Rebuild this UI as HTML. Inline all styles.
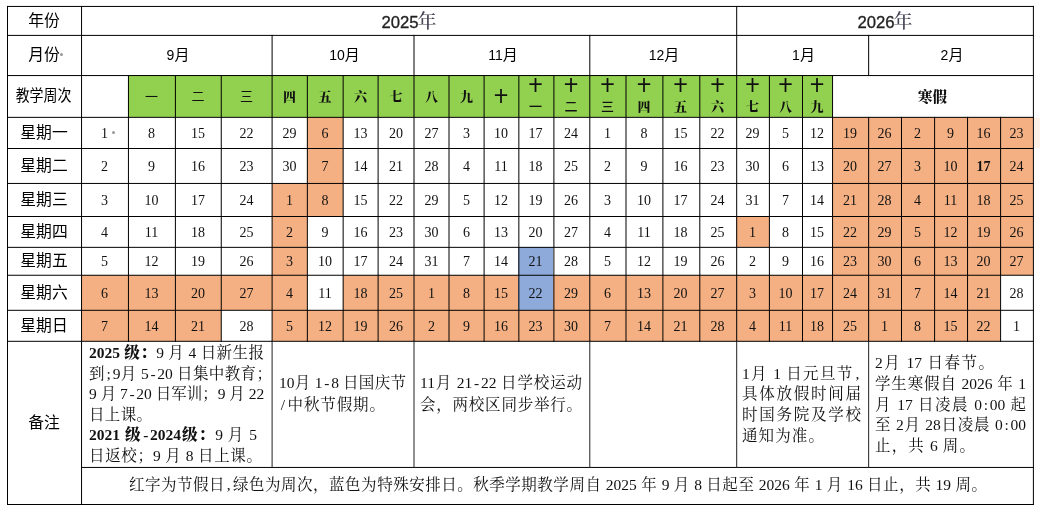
<!DOCTYPE html>
<html lang="zh-CN"><head><meta charset="utf-8"><title>校历</title><style>
html,body{margin:0;padding:0;background:#fff}
body{width:1040px;height:511px;position:relative;overflow:hidden;font-family:"Liberation Sans","Noto Sans CJK SC",sans-serif;color:#111}
.c{position:absolute;display:flex;align-items:center;justify-content:center;box-sizing:border-box;white-space:nowrap}
.grid{position:absolute;left:0;top:0;pointer-events:none}
.grid line{stroke:#000;stroke-width:1}
.grid line.g{stroke:#222}
.lab{font-size:15.8px;padding-bottom:3px;font-family:"Liberation Sans","Noto Sans CJK SC",sans-serif;font-weight:400;color:#000}
.yr{font-size:17px;padding-bottom:2px}
.sq{display:inline-block;transform:scaleX(.885)}
.dot{position:absolute;width:3px;height:3px;border-radius:50%;background:#999;margin:-.5px 0 0 -.5px}
.yr b.yd{font-family:"Liberation Sans",sans-serif;font-weight:400;font-size:16.7px;-webkit-text-stroke:.3px #222;color:#222;margin-right:0px;position:relative;left:1px}
.yr b.yc{font-family:"Liberation Serif","Noto Serif CJK SC",serif;font-weight:500;font-size:19px;color:#445}
.mo{font-size:15px;font-weight:400;padding-bottom:4px;padding-left:3px;color:#000}
.mo i{font-style:normal;font-size:14px}
.wk{font-family:"Liberation Serif","Noto Serif CJK SC",serif;font-weight:900;font-size:13px;line-height:21px;text-align:center}
.wk em{font-style:normal}
.wk.wl em{font-family:"Liberation Sans","Noto Sans CJK SC",sans-serif;font-weight:400;}
.wk em.wl2{font-family:"Liberation Sans","Noto Sans CJK SC",sans-serif;font-weight:500;}
.wk em.ten{font-family:"Liberation Sans","Noto Sans CJK SC",sans-serif;font-weight:700;font-size:13.5px}
.hol{font-family:"Liberation Serif","Noto Serif CJK SC",serif;font-weight:900;font-size:14.5px;padding-bottom:2px}
.num{font-family:"Liberation Serif","Noto Serif CJK SC",serif;font-size:14px;padding-top:2px}
.num.bold{font-weight:700}
.n{position:absolute;margin:0;white-space:nowrap;font-family:"Liberation Serif","Noto Serif CJK SC",serif;font-size:15.5px;line-height:20.8px;color:#111}
.n.j{text-align:justify;text-align-last:justify}
.n b{font-weight:900}
.n i.h{font-style:normal;padding:0 .11em}
</style></head><body>
<div class="c lab" style="left:7px;top:6px;width:74px;height:29px;"><span>年份</span></div>
<div class="c lab" style="left:7px;top:35px;width:74px;height:40px;"><span>月份</span><u class="dot" style="left:53px;top:18px"></u></div>
<div class="c lab" style="left:7px;top:75px;width:74px;height:42px;"><span class="sq">教学周次</span></div>
<div class="c lab" style="left:7px;top:117px;width:74px;height:31px;"><span>星期一</span></div>
<div class="c lab" style="left:7px;top:148px;width:74px;height:35px;"><span>星期二</span></div>
<div class="c lab" style="left:7px;top:183px;width:74px;height:33px;"><span>星期三</span></div>
<div class="c lab" style="left:7px;top:216px;width:74px;height:31px;"><span>星期四</span></div>
<div class="c lab" style="left:7px;top:247px;width:74px;height:28px;"><span>星期五</span></div>
<div class="c lab" style="left:7px;top:275px;width:74px;height:35px;"><span>星期六</span></div>
<div class="c lab" style="left:7px;top:310px;width:74px;height:31px;"><span>星期日</span></div>
<div class="c lab" style="left:7px;top:341px;width:74px;height:163px;"><span>备注</span></div>
<div class="c yr" style="left:81px;top:6px;width:655px;height:29px;"><span><b class="yd">2025</b><b class="yc">年</b></span></div>
<div class="c yr" style="left:736px;top:6px;width:297px;height:29px;"><span><b class="yd">2026</b><b class="yc">年</b></span></div>
<div class="c mo" style="left:81px;top:35px;width:191px;height:40px;"><span><i class="md">9</i>月</span></div>
<div class="c mo" style="left:272px;top:35px;width:142px;height:40px;"><span><i class="md">10</i>月</span></div>
<div class="c mo" style="left:414px;top:35px;width:175px;height:40px;"><span><i class="md">11</i>月</span></div>
<div class="c mo" style="left:589px;top:35px;width:147px;height:40px;"><span><i class="md">12</i>月</span></div>
<div class="c mo" style="left:736px;top:35px;width:132px;height:40px;"><span><i class="md">1</i>月</span></div>
<div class="c mo" style="left:868px;top:35px;width:165px;height:40px;"><span><i class="md">2</i>月</span></div>
<div class="c wk wl" style="left:128px;top:75px;width:47px;height:42px;background:#92d050;"><span><em>一</em></span></div>
<div class="c wk wl" style="left:175px;top:75px;width:46px;height:42px;background:#92d050;"><span><em>二</em></span></div>
<div class="c wk wl" style="left:221px;top:75px;width:51px;height:42px;background:#92d050;"><span><em>三</em></span></div>
<div class="c wk" style="left:272px;top:75px;width:35px;height:42px;background:#92d050;"><span><em>四</em></span></div>
<div class="c wk" style="left:307px;top:75px;width:36px;height:42px;background:#92d050;"><span><em>五</em></span></div>
<div class="c wk" style="left:343px;top:75px;width:35px;height:42px;background:#92d050;"><span><em>六</em></span></div>
<div class="c wk" style="left:378px;top:75px;width:36px;height:42px;background:#92d050;"><span><em>七</em></span></div>
<div class="c wk" style="left:414px;top:75px;width:35px;height:42px;background:#92d050;"><span><em>八</em></span></div>
<div class="c wk" style="left:449px;top:75px;width:35px;height:42px;background:#92d050;"><span><em>九</em></span></div>
<div class="c wk" style="left:484px;top:75px;width:34px;height:42px;background:#92d050;"><span><em class="ten">十</em></span></div>
<div class="c wk" style="left:518px;top:75px;width:35px;height:42px;background:#92d050;"><span class="w2"><em class="ten">十</em><br><em class="wl2">一</em></span></div>
<div class="c wk" style="left:553px;top:75px;width:36px;height:42px;background:#92d050;"><span class="w2"><em class="ten">十</em><br><em class="wl2">二</em></span></div>
<div class="c wk" style="left:589px;top:75px;width:37px;height:42px;background:#92d050;"><span class="w2"><em class="ten">十</em><br><em class="wl2">三</em></span></div>
<div class="c wk" style="left:626px;top:75px;width:36px;height:42px;background:#92d050;"><span class="w2"><em class="ten">十</em><br><em class="">四</em></span></div>
<div class="c wk" style="left:662px;top:75px;width:37px;height:42px;background:#92d050;"><span class="w2"><em class="ten">十</em><br><em class="">五</em></span></div>
<div class="c wk" style="left:699px;top:75px;width:37px;height:42px;background:#92d050;"><span class="w2"><em class="ten">十</em><br><em class="">六</em></span></div>
<div class="c wk" style="left:736px;top:75px;width:33px;height:42px;background:#92d050;"><span class="w2"><em class="ten">十</em><br><em class="">七</em></span></div>
<div class="c wk" style="left:769px;top:75px;width:33px;height:42px;background:#92d050;"><span class="w2"><em class="ten">十</em><br><em class="">八</em></span></div>
<div class="c wk" style="left:802px;top:75px;width:30px;height:42px;background:#92d050;"><span class="w2"><em class="ten">十</em><br><em class="">九</em></span></div>
<div class="c hol" style="left:832px;top:75px;width:201px;height:42px;"><span>寒假</span></div>
<div class="c num" style="left:81px;top:117px;width:47px;height:31px;"><span>1</span><u class="dot" style="left:31px;top:14px"></u></div>
<div class="c num" style="left:81px;top:148px;width:47px;height:35px;"><span>2</span></div>
<div class="c num" style="left:81px;top:183px;width:47px;height:33px;"><span>3</span></div>
<div class="c num" style="left:81px;top:216px;width:47px;height:31px;"><span>4</span></div>
<div class="c num" style="left:81px;top:247px;width:47px;height:28px;"><span>5</span></div>
<div class="c num" style="left:81px;top:275px;width:47px;height:35px;background:#f4b083;"><span>6</span></div>
<div class="c num" style="left:81px;top:310px;width:47px;height:31px;background:#f4b083;"><span>7</span></div>
<div class="c num" style="left:128px;top:117px;width:47px;height:31px;"><span>8</span></div>
<div class="c num" style="left:128px;top:148px;width:47px;height:35px;"><span>9</span></div>
<div class="c num" style="left:128px;top:183px;width:47px;height:33px;"><span>10</span></div>
<div class="c num" style="left:128px;top:216px;width:47px;height:31px;"><span>11</span></div>
<div class="c num" style="left:128px;top:247px;width:47px;height:28px;"><span>12</span></div>
<div class="c num" style="left:128px;top:275px;width:47px;height:35px;background:#f4b083;"><span>13</span></div>
<div class="c num" style="left:128px;top:310px;width:47px;height:31px;background:#f4b083;"><span>14</span></div>
<div class="c num" style="left:175px;top:117px;width:46px;height:31px;"><span>15</span></div>
<div class="c num" style="left:175px;top:148px;width:46px;height:35px;"><span>16</span></div>
<div class="c num" style="left:175px;top:183px;width:46px;height:33px;"><span>17</span></div>
<div class="c num" style="left:175px;top:216px;width:46px;height:31px;"><span>18</span></div>
<div class="c num" style="left:175px;top:247px;width:46px;height:28px;"><span>19</span></div>
<div class="c num" style="left:175px;top:275px;width:46px;height:35px;background:#f4b083;"><span>20</span></div>
<div class="c num" style="left:175px;top:310px;width:46px;height:31px;background:#f4b083;"><span>21</span></div>
<div class="c num" style="left:221px;top:117px;width:51px;height:31px;"><span>22</span></div>
<div class="c num" style="left:221px;top:148px;width:51px;height:35px;"><span>23</span></div>
<div class="c num" style="left:221px;top:183px;width:51px;height:33px;"><span>24</span></div>
<div class="c num" style="left:221px;top:216px;width:51px;height:31px;"><span>25</span></div>
<div class="c num" style="left:221px;top:247px;width:51px;height:28px;"><span>26</span></div>
<div class="c num" style="left:221px;top:275px;width:51px;height:35px;background:#f4b083;"><span>27</span></div>
<div class="c num" style="left:221px;top:310px;width:51px;height:31px;"><span>28</span></div>
<div class="c num" style="left:272px;top:117px;width:35px;height:31px;"><span>29</span></div>
<div class="c num" style="left:272px;top:148px;width:35px;height:35px;"><span>30</span></div>
<div class="c num" style="left:272px;top:183px;width:35px;height:33px;background:#f4b083;"><span>1</span></div>
<div class="c num" style="left:272px;top:216px;width:35px;height:31px;background:#f4b083;"><span>2</span></div>
<div class="c num" style="left:272px;top:247px;width:35px;height:28px;background:#f4b083;"><span>3</span></div>
<div class="c num" style="left:272px;top:275px;width:35px;height:35px;background:#f4b083;"><span>4</span></div>
<div class="c num" style="left:272px;top:310px;width:35px;height:31px;background:#f4b083;"><span>5</span></div>
<div class="c num" style="left:307px;top:117px;width:36px;height:31px;background:#f4b083;"><span>6</span></div>
<div class="c num" style="left:307px;top:148px;width:36px;height:35px;background:#f4b083;"><span>7</span></div>
<div class="c num" style="left:307px;top:183px;width:36px;height:33px;background:#f4b083;"><span>8</span></div>
<div class="c num" style="left:307px;top:216px;width:36px;height:31px;"><span>9</span></div>
<div class="c num" style="left:307px;top:247px;width:36px;height:28px;"><span>10</span></div>
<div class="c num" style="left:307px;top:275px;width:36px;height:35px;"><span>11</span></div>
<div class="c num" style="left:307px;top:310px;width:36px;height:31px;background:#f4b083;"><span>12</span></div>
<div class="c num" style="left:343px;top:117px;width:35px;height:31px;"><span>13</span></div>
<div class="c num" style="left:343px;top:148px;width:35px;height:35px;"><span>14</span></div>
<div class="c num" style="left:343px;top:183px;width:35px;height:33px;"><span>15</span></div>
<div class="c num" style="left:343px;top:216px;width:35px;height:31px;"><span>16</span></div>
<div class="c num" style="left:343px;top:247px;width:35px;height:28px;"><span>17</span></div>
<div class="c num" style="left:343px;top:275px;width:35px;height:35px;background:#f4b083;"><span>18</span></div>
<div class="c num" style="left:343px;top:310px;width:35px;height:31px;background:#f4b083;"><span>19</span></div>
<div class="c num" style="left:378px;top:117px;width:36px;height:31px;"><span>20</span></div>
<div class="c num" style="left:378px;top:148px;width:36px;height:35px;"><span>21</span></div>
<div class="c num" style="left:378px;top:183px;width:36px;height:33px;"><span>22</span></div>
<div class="c num" style="left:378px;top:216px;width:36px;height:31px;"><span>23</span></div>
<div class="c num" style="left:378px;top:247px;width:36px;height:28px;"><span>24</span></div>
<div class="c num" style="left:378px;top:275px;width:36px;height:35px;background:#f4b083;"><span>25</span></div>
<div class="c num" style="left:378px;top:310px;width:36px;height:31px;background:#f4b083;"><span>26</span></div>
<div class="c num" style="left:414px;top:117px;width:35px;height:31px;"><span>27</span></div>
<div class="c num" style="left:414px;top:148px;width:35px;height:35px;"><span>28</span></div>
<div class="c num" style="left:414px;top:183px;width:35px;height:33px;"><span>29</span></div>
<div class="c num" style="left:414px;top:216px;width:35px;height:31px;"><span>30</span></div>
<div class="c num" style="left:414px;top:247px;width:35px;height:28px;"><span>31</span></div>
<div class="c num" style="left:414px;top:275px;width:35px;height:35px;background:#f4b083;"><span>1</span></div>
<div class="c num" style="left:414px;top:310px;width:35px;height:31px;background:#f4b083;"><span>2</span></div>
<div class="c num" style="left:449px;top:117px;width:35px;height:31px;"><span>3</span></div>
<div class="c num" style="left:449px;top:148px;width:35px;height:35px;"><span>4</span></div>
<div class="c num" style="left:449px;top:183px;width:35px;height:33px;"><span>5</span></div>
<div class="c num" style="left:449px;top:216px;width:35px;height:31px;"><span>6</span></div>
<div class="c num" style="left:449px;top:247px;width:35px;height:28px;"><span>7</span></div>
<div class="c num" style="left:449px;top:275px;width:35px;height:35px;background:#f4b083;"><span>8</span></div>
<div class="c num" style="left:449px;top:310px;width:35px;height:31px;background:#f4b083;"><span>9</span></div>
<div class="c num" style="left:484px;top:117px;width:34px;height:31px;"><span>10</span></div>
<div class="c num" style="left:484px;top:148px;width:34px;height:35px;"><span>11</span></div>
<div class="c num" style="left:484px;top:183px;width:34px;height:33px;"><span>12</span></div>
<div class="c num" style="left:484px;top:216px;width:34px;height:31px;"><span>13</span></div>
<div class="c num" style="left:484px;top:247px;width:34px;height:28px;"><span>14</span></div>
<div class="c num" style="left:484px;top:275px;width:34px;height:35px;background:#f4b083;"><span>15</span></div>
<div class="c num" style="left:484px;top:310px;width:34px;height:31px;background:#f4b083;"><span>16</span></div>
<div class="c num" style="left:518px;top:117px;width:35px;height:31px;"><span>17</span></div>
<div class="c num" style="left:518px;top:148px;width:35px;height:35px;"><span>18</span></div>
<div class="c num" style="left:518px;top:183px;width:35px;height:33px;"><span>19</span></div>
<div class="c num" style="left:518px;top:216px;width:35px;height:31px;"><span>20</span></div>
<div class="c num" style="left:518px;top:247px;width:35px;height:28px;background:#8eaadb;"><span>21</span></div>
<div class="c num" style="left:518px;top:275px;width:35px;height:35px;background:#8eaadb;"><span>22</span></div>
<div class="c num" style="left:518px;top:310px;width:35px;height:31px;background:#f4b083;"><span>23</span></div>
<div class="c num" style="left:553px;top:117px;width:36px;height:31px;"><span>24</span></div>
<div class="c num" style="left:553px;top:148px;width:36px;height:35px;"><span>25</span></div>
<div class="c num" style="left:553px;top:183px;width:36px;height:33px;"><span>26</span></div>
<div class="c num" style="left:553px;top:216px;width:36px;height:31px;"><span>27</span></div>
<div class="c num" style="left:553px;top:247px;width:36px;height:28px;"><span>28</span></div>
<div class="c num" style="left:553px;top:275px;width:36px;height:35px;background:#f4b083;"><span>29</span></div>
<div class="c num" style="left:553px;top:310px;width:36px;height:31px;background:#f4b083;"><span>30</span></div>
<div class="c num" style="left:589px;top:117px;width:37px;height:31px;"><span>1</span></div>
<div class="c num" style="left:589px;top:148px;width:37px;height:35px;"><span>2</span></div>
<div class="c num" style="left:589px;top:183px;width:37px;height:33px;"><span>3</span></div>
<div class="c num" style="left:589px;top:216px;width:37px;height:31px;"><span>4</span></div>
<div class="c num" style="left:589px;top:247px;width:37px;height:28px;"><span>5</span></div>
<div class="c num" style="left:589px;top:275px;width:37px;height:35px;background:#f4b083;"><span>6</span></div>
<div class="c num" style="left:589px;top:310px;width:37px;height:31px;background:#f4b083;"><span>7</span></div>
<div class="c num" style="left:626px;top:117px;width:36px;height:31px;"><span>8</span></div>
<div class="c num" style="left:626px;top:148px;width:36px;height:35px;"><span>9</span></div>
<div class="c num" style="left:626px;top:183px;width:36px;height:33px;"><span>10</span></div>
<div class="c num" style="left:626px;top:216px;width:36px;height:31px;"><span>11</span></div>
<div class="c num" style="left:626px;top:247px;width:36px;height:28px;"><span>12</span></div>
<div class="c num" style="left:626px;top:275px;width:36px;height:35px;background:#f4b083;"><span>13</span></div>
<div class="c num" style="left:626px;top:310px;width:36px;height:31px;background:#f4b083;"><span>14</span></div>
<div class="c num" style="left:662px;top:117px;width:37px;height:31px;"><span>15</span></div>
<div class="c num" style="left:662px;top:148px;width:37px;height:35px;"><span>16</span></div>
<div class="c num" style="left:662px;top:183px;width:37px;height:33px;"><span>17</span></div>
<div class="c num" style="left:662px;top:216px;width:37px;height:31px;"><span>18</span></div>
<div class="c num" style="left:662px;top:247px;width:37px;height:28px;"><span>19</span></div>
<div class="c num" style="left:662px;top:275px;width:37px;height:35px;background:#f4b083;"><span>20</span></div>
<div class="c num" style="left:662px;top:310px;width:37px;height:31px;background:#f4b083;"><span>21</span></div>
<div class="c num" style="left:699px;top:117px;width:37px;height:31px;"><span>22</span></div>
<div class="c num" style="left:699px;top:148px;width:37px;height:35px;"><span>23</span></div>
<div class="c num" style="left:699px;top:183px;width:37px;height:33px;"><span>24</span></div>
<div class="c num" style="left:699px;top:216px;width:37px;height:31px;"><span>25</span></div>
<div class="c num" style="left:699px;top:247px;width:37px;height:28px;"><span>26</span></div>
<div class="c num" style="left:699px;top:275px;width:37px;height:35px;background:#f4b083;"><span>27</span></div>
<div class="c num" style="left:699px;top:310px;width:37px;height:31px;background:#f4b083;"><span>28</span></div>
<div class="c num" style="left:736px;top:117px;width:33px;height:31px;"><span>29</span></div>
<div class="c num" style="left:736px;top:148px;width:33px;height:35px;"><span>30</span></div>
<div class="c num" style="left:736px;top:183px;width:33px;height:33px;"><span>31</span></div>
<div class="c num" style="left:736px;top:216px;width:33px;height:31px;background:#f4b083;"><span>1</span></div>
<div class="c num" style="left:736px;top:247px;width:33px;height:28px;"><span>2</span></div>
<div class="c num" style="left:736px;top:275px;width:33px;height:35px;background:#f4b083;"><span>3</span></div>
<div class="c num" style="left:736px;top:310px;width:33px;height:31px;background:#f4b083;"><span>4</span></div>
<div class="c num" style="left:769px;top:117px;width:33px;height:31px;"><span>5</span></div>
<div class="c num" style="left:769px;top:148px;width:33px;height:35px;"><span>6</span></div>
<div class="c num" style="left:769px;top:183px;width:33px;height:33px;"><span>7</span></div>
<div class="c num" style="left:769px;top:216px;width:33px;height:31px;"><span>8</span></div>
<div class="c num" style="left:769px;top:247px;width:33px;height:28px;"><span>9</span></div>
<div class="c num" style="left:769px;top:275px;width:33px;height:35px;background:#f4b083;"><span>10</span></div>
<div class="c num" style="left:769px;top:310px;width:33px;height:31px;background:#f4b083;"><span>11</span></div>
<div class="c num" style="left:802px;top:117px;width:30px;height:31px;"><span>12</span></div>
<div class="c num" style="left:802px;top:148px;width:30px;height:35px;"><span>13</span></div>
<div class="c num" style="left:802px;top:183px;width:30px;height:33px;"><span>14</span></div>
<div class="c num" style="left:802px;top:216px;width:30px;height:31px;"><span>15</span></div>
<div class="c num" style="left:802px;top:247px;width:30px;height:28px;"><span>16</span></div>
<div class="c num" style="left:802px;top:275px;width:30px;height:35px;background:#f4b083;"><span>17</span></div>
<div class="c num" style="left:802px;top:310px;width:30px;height:31px;background:#f4b083;"><span>18</span></div>
<div class="c num" style="left:832px;top:117px;width:36px;height:31px;background:#f4b083;"><span>19</span></div>
<div class="c num" style="left:832px;top:148px;width:36px;height:35px;background:#f4b083;"><span>20</span></div>
<div class="c num" style="left:832px;top:183px;width:36px;height:33px;background:#f4b083;"><span>21</span></div>
<div class="c num" style="left:832px;top:216px;width:36px;height:31px;background:#f4b083;"><span>22</span></div>
<div class="c num" style="left:832px;top:247px;width:36px;height:28px;background:#f4b083;"><span>23</span></div>
<div class="c num" style="left:832px;top:275px;width:36px;height:35px;background:#f4b083;"><span>24</span></div>
<div class="c num" style="left:832px;top:310px;width:36px;height:31px;background:#f4b083;"><span>25</span></div>
<div class="c num" style="left:868px;top:117px;width:33px;height:31px;background:#f4b083;"><span>26</span></div>
<div class="c num" style="left:868px;top:148px;width:33px;height:35px;background:#f4b083;"><span>27</span></div>
<div class="c num" style="left:868px;top:183px;width:33px;height:33px;background:#f4b083;"><span>28</span></div>
<div class="c num" style="left:868px;top:216px;width:33px;height:31px;background:#f4b083;"><span>29</span></div>
<div class="c num" style="left:868px;top:247px;width:33px;height:28px;background:#f4b083;"><span>30</span></div>
<div class="c num" style="left:868px;top:275px;width:33px;height:35px;background:#f4b083;"><span>31</span></div>
<div class="c num" style="left:868px;top:310px;width:33px;height:31px;background:#f4b083;"><span>1</span></div>
<div class="c num" style="left:901px;top:117px;width:33px;height:31px;background:#f4b083;"><span>2</span></div>
<div class="c num" style="left:901px;top:148px;width:33px;height:35px;background:#f4b083;"><span>3</span></div>
<div class="c num" style="left:901px;top:183px;width:33px;height:33px;background:#f4b083;"><span>4</span></div>
<div class="c num" style="left:901px;top:216px;width:33px;height:31px;background:#f4b083;"><span>5</span></div>
<div class="c num" style="left:901px;top:247px;width:33px;height:28px;background:#f4b083;"><span>6</span></div>
<div class="c num" style="left:901px;top:275px;width:33px;height:35px;background:#f4b083;"><span>7</span></div>
<div class="c num" style="left:901px;top:310px;width:33px;height:31px;background:#f4b083;"><span>8</span></div>
<div class="c num" style="left:934px;top:117px;width:33px;height:31px;background:#f4b083;"><span>9</span></div>
<div class="c num" style="left:934px;top:148px;width:33px;height:35px;background:#f4b083;"><span>10</span></div>
<div class="c num" style="left:934px;top:183px;width:33px;height:33px;background:#f4b083;"><span>11</span></div>
<div class="c num" style="left:934px;top:216px;width:33px;height:31px;background:#f4b083;"><span>12</span></div>
<div class="c num" style="left:934px;top:247px;width:33px;height:28px;background:#f4b083;"><span>13</span></div>
<div class="c num" style="left:934px;top:275px;width:33px;height:35px;background:#f4b083;"><span>14</span></div>
<div class="c num" style="left:934px;top:310px;width:33px;height:31px;background:#f4b083;"><span>15</span></div>
<div class="c num" style="left:967px;top:117px;width:33px;height:31px;background:#f4b083;"><span>16</span></div>
<div class="c num bold" style="left:967px;top:148px;width:33px;height:35px;background:#f4b083;"><span>17</span></div>
<div class="c num" style="left:967px;top:183px;width:33px;height:33px;background:#f4b083;"><span>18</span></div>
<div class="c num" style="left:967px;top:216px;width:33px;height:31px;background:#f4b083;"><span>19</span></div>
<div class="c num" style="left:967px;top:247px;width:33px;height:28px;background:#f4b083;"><span>20</span></div>
<div class="c num" style="left:967px;top:275px;width:33px;height:35px;background:#f4b083;"><span>21</span></div>
<div class="c num" style="left:967px;top:310px;width:33px;height:31px;background:#f4b083;"><span>22</span></div>
<div class="c num" style="left:1000px;top:117px;width:33px;height:31px;background:#f4b083;"><span>23</span></div>
<div class="c num" style="left:1000px;top:148px;width:33px;height:35px;background:#f4b083;"><span>24</span></div>
<div class="c num" style="left:1000px;top:183px;width:33px;height:33px;background:#f4b083;"><span>25</span></div>
<div class="c num" style="left:1000px;top:216px;width:33px;height:31px;background:#f4b083;"><span>26</span></div>
<div class="c num" style="left:1000px;top:247px;width:33px;height:28px;background:#f4b083;"><span>27</span></div>
<div class="c num" style="left:1000px;top:275px;width:33px;height:35px;"><span>28</span></div>
<div class="c num" style="left:1000px;top:310px;width:33px;height:31px;"><span>1</span></div>
<div class="c " style="left:1034px;top:118px;width:6px;height:30px;background:#fdf2ea;"></div>
<svg class="grid" width="1040" height="511" viewBox="0 0 1040 511"><line x1="7" y1="6.45" x2="1033.9" y2="6.45"/><line x1="7" y1="35.4" x2="1033.9" y2="35.4"/><line x1="7" y1="75.55" x2="1033.9" y2="75.55"/><line x1="7" y1="117.35" x2="1033.9" y2="117.35"/><line x1="7" y1="148.5" x2="1033.9" y2="148.5"/><line x1="7" y1="183.45" x2="1033.9" y2="183.45"/><line x1="7" y1="216.5" x2="1033.9" y2="216.5"/><line x1="7" y1="247.35" x2="1033.9" y2="247.35"/><line x1="7" y1="275.25" x2="1033.9" y2="275.25"/><line x1="7" y1="310.3" x2="1033.9" y2="310.3"/><line x1="7" y1="341.3" x2="1033.9" y2="341.3"/><line x1="81.05" y1="467.45" x2="1033.9" y2="467.45"/><line x1="7" y1="504.5" x2="1033.9" y2="504.5"/><line x1="7.5" y1="5.95" x2="7.5" y2="505"/><line x1="81.55" y1="5.95" x2="81.55" y2="505"/><line x1="1033.4" y1="5.95" x2="1033.4" y2="505"/><line x1="736.7" y1="5.95" x2="736.7" y2="341.8"/><line x1="736.7" y1="340.8" x2="736.7" y2="467.95" class="g"/><line x1="272.1" y1="34.9" x2="272.1" y2="341.8"/><line x1="272.1" y1="340.8" x2="272.1" y2="467.95" class="g"/><line x1="414" y1="34.9" x2="414" y2="341.8"/><line x1="414" y1="340.8" x2="414" y2="467.95" class="g"/><line x1="589.8" y1="34.9" x2="589.8" y2="341.8"/><line x1="589.8" y1="340.8" x2="589.8" y2="467.95" class="g"/><line x1="868.65" y1="34.9" x2="868.65" y2="76.05"/><line x1="868.65" y1="116.85" x2="868.65" y2="341.8"/><line x1="868.65" y1="340.8" x2="868.65" y2="467.95" class="g"/><line x1="128.45" y1="75.05" x2="128.45" y2="341.8"/><line x1="175.4" y1="75.05" x2="175.4" y2="341.8"/><line x1="221.25" y1="75.05" x2="221.25" y2="341.8"/><line x1="307.35" y1="75.05" x2="307.35" y2="341.8"/><line x1="343.15" y1="75.05" x2="343.15" y2="341.8"/><line x1="378.1" y1="75.05" x2="378.1" y2="341.8"/><line x1="449" y1="75.05" x2="449" y2="341.8"/><line x1="484.1" y1="75.05" x2="484.1" y2="341.8"/><line x1="518.85" y1="75.05" x2="518.85" y2="341.8"/><line x1="553.9" y1="75.05" x2="553.9" y2="341.8"/><line x1="626" y1="75.05" x2="626" y2="341.8"/><line x1="662.9" y1="75.05" x2="662.9" y2="341.8"/><line x1="699.8" y1="75.05" x2="699.8" y2="341.8"/><line x1="769.4" y1="75.05" x2="769.4" y2="341.8"/><line x1="802.5" y1="75.05" x2="802.5" y2="341.8"/><line x1="832.55" y1="75.05" x2="832.55" y2="341.8"/><line x1="901.5" y1="116.85" x2="901.5" y2="341.8"/><line x1="934.6" y1="116.85" x2="934.6" y2="341.8"/><line x1="967.55" y1="116.85" x2="967.55" y2="341.8"/><line x1="1000.6" y1="116.85" x2="1000.6" y2="341.8"/></svg><p class="n  j" style="left:89px;top:342.6px;width:175px;"><b>2025 级：</b>9 月 4 日新生报</p>
<p class="n  j" style="left:89px;top:363.6px;width:183px;">到<i class="h">;</i>9月 5<i class="h">-</i>20 日集中教育；</p>
<p class="n  j" style="left:89px;top:384.1px;width:175px;">9 月 7<i class="h">-</i>20 日军训；9 月 22</p>
<p class="n  j" style="left:89px;top:404.6px;width:63px;">日上课。</p>
<p class="n  j" style="left:89px;top:425.1px;width:168px;"><b>2021 级<i class="h">-</i>2024级：</b>9 月 5</p>
<p class="n  j" style="left:89px;top:445.6px;width:173px;">日返校；9 月 8 日上课。</p>
<p class="n  j" style="left:279px;top:373.4px;width:127px;">10月 1<i class="h">-</i>8 日国庆节</p>
<p class="n  j" style="left:279px;top:395.4px;width:106px;"><i class="h">/</i>中秋节假期。</p>
<p class="n  j" style="left:420px;top:373.4px;width:162px;">11月 21<i class="h">-</i>22 日学校运动</p>
<p class="n  j" style="left:420px;top:395.4px;width:162px;">会，两校区同步举行。</p>
<p class="n  j" style="left:742px;top:363.6px;width:119px;">1月 1 日元旦节<i class="h">,</i></p>
<p class="n  j" style="left:742px;top:384.3px;width:119px;">具体放假时间届</p>
<p class="n  j" style="left:742px;top:405.1px;width:119px;">时国务院及学校</p>
<p class="n  j" style="left:742px;top:426.0px;width:82px;">通知为准。</p>
<p class="n  j" style="left:875px;top:352.9px;width:119px;">2月 17 日春节。</p>
<p class="n  j" style="left:875px;top:373.8px;width:151px;">学生寒假自 2026 年 1</p>
<p class="n  j" style="left:875px;top:394.6px;width:151px;">月 17 日凌晨 0<i class="h">:</i>00 起</p>
<p class="n  j" style="left:875px;top:415.1px;width:151px;">至 2月 28日凌晨 0<i class="h">:</i>00</p>
<p class="n  j" style="left:875px;top:436.4px;width:100px;">止，共 6 周。</p>
<p class="n  j" style="left:129px;top:475.1px;width:858px;">红字为节假日<i class="h">,</i>绿色为周次，蓝色为特殊安排日。秋季学期教学周自 2025 年 9 月 8 日起至 2026 年 1 月 16 日止，共 19 周。</p></body></html>
